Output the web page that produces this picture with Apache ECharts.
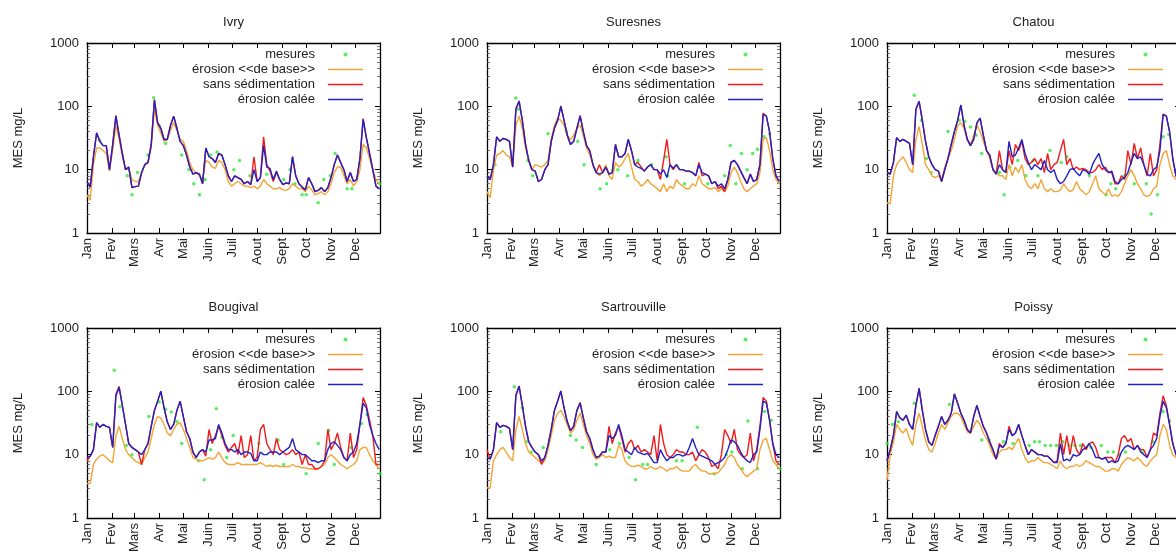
<!DOCTYPE html>
<html>
<head>
<meta charset="utf-8">
<script src="https://cdn.jsdelivr.net/npm/echarts@6/dist/echarts.min.js"></script>
<style>
  html, body { margin: 0; padding: 0; background: #fff; }
  #chart { width: 1176px; height: 553px; }
</style>
</head>
<body>
<div id="chart"></div>
<script>
// jours de l'année (pas de 4 jours)
const days = [0,4,8,12,16,20,24,28,32,36,
  40,44,48,52,56,60,64,68,72,76,
  80,84,88,92,96,100,104,108,112,116,
  120,124,128,132,136,140,144,148,152,156,
  160,164,168,172,176,180,184,188,192,196,
  200,204,208,212,216,220,224,228,232,236,
  240,244,248,252,256,260,264,268,272,276,
  280,284,288,292,296,300,304,308,312,316,
  320,324,328,332,336,340,344,348,352,356,
  360,364];
const monthStarts = [0,31,59,90,120,151,181,212,243,273,304,334];
const monthNames = ["Jan","Fev","Mars","Avr","Mai","Juin","Juil","Aout","Sept","Oct","Nov","Dec"];
const yTicks = [1,10,100,1000];
const yMinor = [2,3,4,5,6,7,8,9,20,30,40,50,60,70,80,90,200,300,400,500,600,700,800,900];
const seriesNames = ["mesures","érosion <<de base>>","sans sédimentation","érosion calée"];
const stations = ["Ivry","Suresnes","Chatou","Bougival","Sartrouville","Poissy"];

// Ivry
const ivryBase = [4,3.3,12,22,22,20,18,9.5,20,50, 30,16,10,10.5,7,6.5,6.5,9,12,13, 22,90,50,38,28,30,42,55,42,30,
  28,20,13,10,9,8,7,14,13,11, 10.5,14,13,10,6.5,5.5,6,6.5,6,5.5, 5.5,5.2,5.5,5,5.5,7,6,5.5,5,5,
  5.2,4.8,4.7,5,6,5.5,5,5,4.5,5.5, 4.8,4,4.2,4.5,4,4.5,6,9,11,11, 8,6,7,5.5,6.5,10,25,22,15,10, 7,6];
const ivrySans = [6.4,5.3,16,38,28,24,24,10,25,72, 35,18,10,11,5.2,5.4,5.5,9,12,13, 25,128,55,45,30,30,50,70,45,28,
  24,17,11,8.5,9,8.5,6,22,16,15, 13,18,17,12,8,6.5,8,7.5,7,6, 6.5,5.8,16,6.5,7.5,33,12,9.5,6.5,9,
  7,5.8,6.2,6,16,8,6,5.3,4.8,7.5, 6,4.5,4.7,5.2,4.5,5.2,7.5,12,17,13, 10,6.5,9,6.5,7,15,64,32,18,10, 5.5,5];
const ivryCalee = [6.4,5.3,16,38,28,24,24,10,25,70, 35,18,10,11,5.2,5.4,5.5,9,12,13, 25,125,55,45,30,30,50,70,45,28,
  24,17,11,8.5,9,8.5,6,22,16,15, 13,18,17,12,8,6.5,8,7.5,7,6, 6.5,5.8,10,6.5,7.5,24,11,10.5,7,9.5,
  7,5.8,6.2,6,16,8,6,5.3,4.8,7.5, 6,4.5,4.7,5.2,4.5,5.2,7.5,12,17,13, 10,6.5,9,6.5,7,15,62,32,18,10, 5.5,5];
const ivryMes = [[16,29],[50,8],[56,4],[63,9],[76,17],[83,137],[90,50],[98,26],[118,17],[127,10],[133,6],[140,4],
  [147,7],[154,17],[162,19],[183,10],[190,14],[203,8],[224,8.5],[245,7],[253,10],[259,6],[268,4],[273,4],
  [288,3],[295,7],[303,8],[309,18],[324,5],[330,5],[365,6]];

// Suresnes
const suresnesBase = [4.5,3.6,10,17,18,20,17,16,11,50, 70,45,22,14,10,12,11.5,11,12,14, 30,50,65,60,50,35,30,35,45,50,
  35,22,17,12,9,8,9,12,8,7, 13,11,12,15,18,11,7,6.5,5.5,6, 7,6,5.5,5,4.5,6,4.5,5.5,5,7,
  6,5.5,5,5,6,5.5,8,6,5.5,5, 5,5.2,4.5,5,4.5,5.5,9,11,9,6.5, 5,4.5,5,5.5,6,9,30,32,20,10, 7,6];
const suresnesSans = [8,7,12,33,28,31,30,28,11,92, 122,60,25,14,10,9.5,6.5,7,10,12, 28,45,60,102,60,35,25,28,45,72,
  40,24,20,12,9,12,9,11,8.5,9, 25,16,16,18,30,20,12,13,11,9.5, 11,12,10,10,7,14,30,12,10,12,
  10,10,9.5,9.5,9,8,13,8,8.5,8, 6,6.5,5,5.5,4.5,7,13,14,12,9.5, 7.5,6,8.5,6.5,7,12,78,70,40,15, 8,6.5];
const suresnesCalee = [8,7,12,33,28,31,30,28,11,90, 120,60,25,14,10,9.5,6.5,7,10,12, 28,45,60,100,60,35,25,28,45,70,
  40,24,20,12,9,8.5,9,11,8.5,9, 25,16,16,18,30,20,12,11,10.5,9.5, 11,12,10,10,8.5,10,7.5,12,10.5,12,
  10,10,9.5,9.5,9,8,12,9,8.5,8, 6,6.5,5.5,6,5,7,13,14,12,9.5, 7.5,6,8.5,6.5,7,12,75,70,40,15, 8,6.5];
const suresnesMes = [[10,12],[36,135],[39,90],[51,14],[57,8],[76,37],[99,40],[113,28],[121,12],[141,5],[149,6],
  [157,10],[163,10],[175,8],[188,14],[205,12],[223,16],[225,8],[246,6],[275,6],[296,8],[303,24],[310,6],
  [317,18],[324,10],[331,18],[337,21],[345,33],[352,37]];

// Chatou
const chatouBase = [3,2.9,8,12,14,16,13,10,9,30, 48,25,12,10,8,7.5,8,7,11,15, 20,30,50,55,45,30,25,35,50,40,
  28,20,15,10,9,8,8,7,12,8, 11,9,12,7,5.5,5,6,5,7,5, 4.5,5,4.5,4.5,4.8,6,5,4.5,4.8,6.5,
  5,4.5,4,4.5,6,8,5,4.5,4,5, 3.8,4,3.8,4.5,6,8,10,8,6,5, 4,3.8,4,5,5.5,12,18,20,12,8, 7,6.5];
const chatouSans = [9,8.5,13,32,28,30,28,26,12,90, 120,60,28,16,12,10,9.5,6.5,10,15, 25,40,60,105,50,30,24,30,55,65,
  35,20,17,10,8.5,20,10,9,20,12, 25,20,28,15,12,13,15,12,15,9, 18,10,12,13,20,30,12,15,10,11,
  10,10.5,10,9,9,10,12,10,11,9, 9,6,6,8,7,20,12,26,15,22, 12,8,18,8,10,25,75,70,40,15, 8,6.5];
const chatouCalee = [9,8.5,13,32,28,30,28,26,12,90, 120,60,28,16,12,10,9.5,6.5,10,15, 25,40,60,105,50,30,24,30,55,65,
  35,20,17,10,8.5,12,10,9,28,16, 17,22,30,18,13,10,12,11,10,14, 10,9,10,7,6,6.5,8,10,10.5,9,
  8,10,9.5,8.5,12,15,18,12,10,9, 9.5,6.5,6,7,7.5,9,13,18,15,16, 12,8.5,8,10,11,20,75,70,40,15, 8,6.5];
const chatouMes = [[34,150],[43,60],[49,15],[55,9],[76,40],[90,60],[97,58],[104,47],[111,35],[118,18],[140,9],
  [146,4],[153,11],[163,14],[173,8],[182,14],[188,8],[203,20],[217,13],[224,16],[252,8],[273,4],[279,6],
  [285,5],[296,8],[308,6],[323,6],[329,2],[337,4],[344,33],[351,36]];

// Bougival
const bougivalBase = [3.5,3.5,7,8.5,9.5,10,9,8,7.5,20, 28,18,12,10,9,8,7.5,7,9,11, 18,30,40,38,30,22,20,25,30,32,
  25,18,13,9,8.5,8,8,8.5,9,8.5, 9,11,9,7.5,7,7,7,7.5,7,7, 7,7,7,7,7.5,7,6.5,6.8,6.5,6.8,
  6.5,6.5,6.5,6.5,7,6.5,6.5,6.2,6.2,6, 6,5.8,6,6.5,7,9,10,9,8,7, 6.5,6,6.5,7,8,12,13,13,10,8, 7,6];
const bougivalSans = [8,9.5,12,32,27,30,28,27,13,90, 120,60,30,15,13,12,11,7,12,15, 28,50,70,100,55,33,25,30,50,70,
  40,23,18,11,9,11,12,9.5,25,15, 20,28,20,14,11,13,15,10,20,9, 10,20,8,9,25,30,15,12,10,18,
  12,11,10,10.5,12,10,11,7,10,7, 7,6,6,6.5,8,25,12,15,22,13, 9,8,22,9,12,30,80,60,35,20, 7,7];
const bougivalCalee = [9,9.5,12,32,27,30,28,27,13,85, 115,60,30,15,13,12,11,10,12,15, 28,50,70,100,55,33,25,30,50,70,
  40,23,18,11,9,11,12,11,17,17, 18,30,22,15,12,12,11,12,10,11, 11,10.5,8,8,11,10,10,11,11,11,
  10,11,12,13,18,12,11,10,10,9, 8,8,7.5,8,8,12,15,16,14,12, 9,8,10,11,15,30,65,55,30,20, 15,12];
const bougivalMes = [[6,30],[34,215],[41,57],[49,14],[56,10],[77,40],[90,68],[98,52],[105,47],[112,33],[118,15],
  [139,8],[146,4],[154,12],[161,53],[168,19],[174,9],[182,20],[214,15],[238,17],[245,7],[273,5],[288,15],
  [301,24],[308,7],[329,13],[342,31],[349,43],[365,5]];

// Sartrouville
const sartrouvilleBase = [3,3,8,10,12,13,11,9,8,25, 40,25,15,11,10,9,8,7.5,8,12, 20,35,45,50,40,30,22,25,35,45,
  30,20,15,10,8.5,9,10,9,9.5,9, 9,14,12,8,7,6.5,6.5,6.8,6.5,6, 6,6.5,6,6,6.5,6,5.5,6,6,6.5,
  5.8,5.5,5.5,5.5,6.5,7,6,5.5,5.5,5, 5,5,5.2,6,7,9,10,9,7,6, 5,4.5,5,5.5,6,12,17,18,12,8, 7,6];
const sartrouvilleSans = [12,8.5,12,32,27,29,28,26,12,88, 122,60,28,16,13,11,10,7,9,14, 25,50,70,102,55,33,24,28,50,67,
  38,23,18,12,9,9.5,11,11,28,15, 22,28,18,11,15,17,12,14,11,12, 11,10,20,8,30,15,10,9,10,12,
  11,11,10,10,11,8,10,12,11,9, 6.5,7,6,10,25,20,15,25,12,10, 9,10,22,8,12,28,80,70,35,15, 8,7];
const sartrouvilleCalee = [9,8.5,12,32,27,29,28,26,12,85, 120,60,28,16,13,11,10,8,9,14, 25,50,70,100,55,33,24,28,50,65,
  38,23,18,12,9,9.5,11,11,20,18, 20,30,20,12,11,10,13,11,10.5,10, 10.5,9,7.5,7.5,12,9.5,8,9,9,10,
  10,9.5,10,13,18,13,10,9.5,9,8.5, 8,7,7.5,8,9,12,17,16,14,11, 9,8,7.5,10,11,25,70,65,35,15, 10,9];
const sartrouvilleMes = [[17,23],[34,118],[44,55],[49,16],[55,11],[70,13],[104,20],[111,17],[119,13],[136,7],
  [153,12],[165,15],[177,9],[185,4],[194,7],[200,7],[236,8],[243,8],[262,27],[283,5],[298,10],[305,11],
  [318,6],[325,34],[337,6],[346,48],[354,35],[365,6]];

// Poissy
const poissyBase = [4,10,16,30,25,22,26,18,14,30, 45,28,17,12,11,15,22,30,25,32, 40,45,45,40,30,23,22,28,35,30,
  22,18,14,10,8.5,11,12,12,13,12, 15,18,12,9,7.5,8,8,9,8,7.5, 7.5,7,6.5,6,8,6.5,6,6.5,6.5,7,
  6.5,7,8,7.5,7,6.5,6.5,6,5.5,5.5, 6,6,5.5,7,8,9,8.5,8,9,8, 7,6.5,8,9,10,20,30,25,14,10, 9,8];
const poissySans = [8,12,20,48,38,35,42,30,25,60, 112,50,25,16,14,20,28,40,30,35, 45,92,65,45,35,25,22,40,60,40,
  28,22,16,12,8.5,15,13,15,28,20, 22,30,20,14,10,12,11,10,10,9.5, 9.5,8.5,7.5,8,22,10,20,10,20,12,
  10,15,12,15,16,13,9,8.5,9,9, 9,7.5,10,18,20,16,18,12,14,12, 12,9,12,22,20,45,85,60,30,15, 10,9];
const poissyCalee = [8,12,20,48,38,35,42,30,25,60, 110,50,25,16,14,20,28,40,30,35, 45,90,65,45,35,25,22,40,60,40,
  28,22,16,12,8.5,14,13,15,25,20, 22,30,20,14,10,12,11,10,10,9.5, 9.5,8.5,7.5,7.5,15,8,8.5,8,10,9.5,
  10,12,13,15,12,9,9,8.5,9,7.5, 8,7.5,8,11,13,14,13,12,14,11, 10,9,12,14,18,40,70,55,30,15, 10,9];
const poissyMes = [[0,15],[7,30],[14,33],[34,65],[78,62],[118,17],[127,17],[145,16],[157,15],[177,14],[184,16],
  [190,16],[197,14],[204,14],[211,14],[219,16],[227,14],[234,14],[241,14],[254,13],[267,14],[275,11],
  [282,11],[289,10],[297,11],[318,11],[331,16],[344,48],[352,34]];

const panels = [
  [ivryMes, ivryBase, ivrySans, ivryCalee],
  [suresnesMes, suresnesBase, suresnesSans, suresnesCalee],
  [chatouMes, chatouBase, chatouSans, chatouCalee],
  [bougivalMes, bougivalBase, bougivalSans, bougivalCalee],
  [sartrouvilleMes, sartrouvilleBase, sartrouvilleSans, sartrouvilleCalee],
  [poissyMes, poissyBase, poissySans, poissyCalee]
];

const colLeft = [87, 487, 887];
const rowTop = [43, 328];
const gridW = 293, gridH = 190;
const lineColors = ["#f2a535", "#ee1c1c", "#2222c4"];
const dotColor = "#2ee83a";
const font = "'Liberation Sans', Arial, sans-serif";
const textColor = "#222";
// échantillon de trait pour la légende (pas de symbole au milieu)
const lineIcon = "path://M0,0H40V1.6H0Z";

const chart = echarts.init(document.getElementById("chart"));

const grid = [], xAxis = [], yAxis = [], series = [], legend = [], graphic = [];

function zip(vals) {
  return days.map((d, i) => [d, vals[i]]);
}

stations.forEach((name, g) => {
  const left = colLeft[g % 3];
  const top = rowTop[Math.floor(g / 3)];
  grid.push({ left: left, top: top, width: gridW, height: gridH, outerBoundsMode: "none", containLabel: false });

  graphic.push({
    type: "text", x: left + gridW / 2, y: top - 21,
    style: { text: name, fill: textColor, font: "13px " + font, textAlign: "center", textVerticalAlign: "middle" }
  });

  const tickStyle = { color: "#000", width: 1 };
  ["bottom", "top"].forEach(pos => {
    xAxis.push({
      gridIndex: g, type: "value", min: 0, max: 365, position: pos,
      axisLine: { show: true, onZero: false, lineStyle: { color: "#000", width: 1.3 } },
      axisTick: { show: true, inside: true, length: 5, customValues: monthStarts, lineStyle: tickStyle },
      axisLabel: {
        show: pos === "bottom", customValues: monthStarts, rotate: 90, margin: 5,
        fontSize: 13, color: textColor, fontFamily: font,
        formatter: v => monthNames[monthStarts.indexOf(v)] || ""
      },
      splitLine: { show: false }
    });
  });

  ["left", "right"].forEach(pos => {
    yAxis.push({
      gridIndex: g, type: "log", logBase: 10, min: 1, max: 1000, position: pos,
      name: pos === "left" ? "MES mg/L" : "",
      nameLocation: "middle", nameGap: 62,
      nameTextStyle: { fontSize: 13, color: textColor, fontFamily: font },
      axisLine: { show: true, lineStyle: { color: "#000", width: 1.3 } },
      axisTick: { show: true, inside: true, length: 5, customValues: yTicks, lineStyle: tickStyle },
      axisLabel: {
        show: pos === "left", customValues: yTicks, margin: 8, fontSize: 13, color: textColor, fontFamily: font,
        formatter: v => String(Math.round(v))
      },
      splitLine: { show: false }
    });
    yAxis.push({
      gridIndex: g, type: "log", logBase: 10, min: 1, max: 1000, position: pos,
      axisLine: { show: false },
      axisTick: { show: true, inside: true, length: 3, customValues: yMinor, lineStyle: { color: "#555", width: 0.8 } },
      axisLabel: { show: false },
      splitLine: { show: false }
    });
  });

  const data = panels[g];
  series.push({
    name: seriesNames[0], type: "scatter", xAxisIndex: g * 2, yAxisIndex: g * 4,
    data: data[0], symbol: "circle", symbolSize: 3.5,
    itemStyle: { color: dotColor }
  });
  for (let k = 1; k < 4; k++) {
    series.push({
      name: seriesNames[k], type: "line", xAxisIndex: g * 2, yAxisIndex: g * 4,
      data: zip(data[k]), symbol: "none", showSymbol: false,
      lineStyle: { color: lineColors[k - 1], width: 1.4 },
      itemStyle: { color: lineColors[k - 1] }
    });
  }

  legend.push({
    orient: "vertical", right: 1176 - (left + 276), top: top + 4, padding: 0,
    align: "right", itemWidth: 35, itemHeight: 4, itemGap: 0,
    selectedMode: false,
    data: [
      { name: seriesNames[0], icon: "circle", itemStyle: { color: dotColor } },
      { name: seriesNames[1], icon: lineIcon, itemStyle: { color: lineColors[0] } },
      { name: seriesNames[2], icon: lineIcon, itemStyle: { color: lineColors[1] } },
      { name: seriesNames[3], icon: lineIcon, itemStyle: { color: lineColors[2] } }
    ],
    textStyle: { fontSize: 13, color: textColor, fontFamily: font, width: 135, align: "right", padding: [0, 8, 0, 0], lineHeight: 15 }
  });
});

chart.setOption({
  animation: false,
  backgroundColor: "#fff",
  textStyle: { fontFamily: font },
  grid: grid,
  xAxis: xAxis,
  yAxis: yAxis,
  legend: legend,
  graphic: graphic,
  series: series
});
</script>
</body>
</html>
